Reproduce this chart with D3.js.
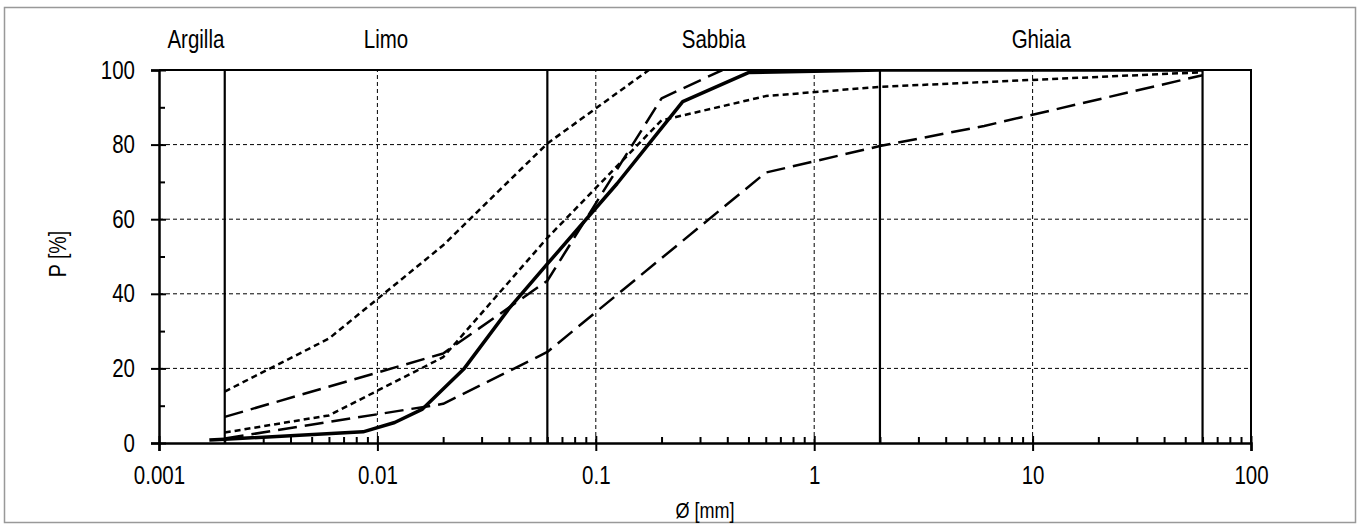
<!DOCTYPE html>
<html>
<head>
<meta charset="utf-8">
<script src="https://cdn.jsdelivr.net/npm/d3@7"></script>
<style>
  body { margin: 0; background: #fff; }
  svg text { font-family: "Liberation Sans", Arial, sans-serif; fill: #000; }
</style>
</head>
<body>
<div id="chart"></div>
<script>
// grain size classes (boundaries in mm) and their names
const classBounds = [0.002, 0.06, 2, 60];
const classNames = ['Argilla', 'Limo', 'Sabbia', 'Ghiaia'];
const classEdges = [0.001, 0.002, 0.06, 2, 60];

// axis ticks
const xTickValues = [0.001, 0.01, 0.1, 1, 10, 100];
const xTickLabels = ['0.001', '0.01', '0.1', '1', '10', '100'];
const yTickValues = [0, 20, 40, 60, 80, 100];
const yMinorValues = [10, 30, 50, 70, 90];

// grading curves: diameters [mm] and passing [%]
const solidD = [0.0017, 0.002, 0.0086, 0.012, 0.016, 0.025, 0.04, 0.06, 0.125, 0.25, 0.5, 2, 60];
const solidP = [0.8, 1.0, 3.0, 5.5, 9.0, 20, 36, 48, 69.5, 91.5, 99.3, 100, 100];

const fineDotD = [0.002, 0.006, 0.02, 0.06, 0.175];
const fineDotP = [13.8, 28, 53, 80.3, 100];

const midDotD = [0.002, 0.006, 0.02, 0.06, 0.2, 0.6, 2, 60];
const midDotP = [2.8, 7.4, 23, 55, 86.5, 93, 95.5, 99.4];

const upperDashD = [0.002, 0.02, 0.06, 0.2, 0.38];
const upperDashP = [7, 24, 43.5, 92.4, 100];

const lowerDashD = [0.002, 0.02, 0.06, 0.6, 2, 6, 60];
const lowerDashP = [1.2, 10.5, 24.4, 72.5, 79.6, 85, 98.6];

const width = 1367, height = 532;
const marginLeft = 159, marginRight = 116, marginTop = 70, marginBottom = 89;
const NARROW = 0.82; // horizontal squeeze to get a narrow face
const x = d3.scaleLog([0.001, 100], [marginLeft, width - marginRight]);
const y = d3.scaleLinear([0, 100], [height - marginBottom, marginTop]);

const svg = d3.select('#chart').append('svg')
  .attr('width', width)
  .attr('height', height);

// outer frame
svg.append('rect')
  .attr('x', 4.5).attr('y', 7.5)
  .attr('width', 1351).attr('height', 515)
  .attr('fill', 'none')
  .attr('stroke', '#999')
  .attr('stroke-width', 1.5);

svg.append('defs').append('clipPath').attr('id', 'plot')
  .append('rect')
  .attr('x', x.range()[0]).attr('y', y.range()[1])
  .attr('width', x.range()[1] - x.range()[0])
  .attr('height', y.range()[0] - y.range()[1]);

// grid lines
const grid = svg.append('g')
  .attr('stroke', '#000')
  .attr('stroke-width', 1)
  .attr('stroke-dasharray', '4,3');
grid.selectAll('.hgrid')
  .data(yTickValues.filter(v => v > 0 && v < 100))
  .join('line')
  .attr('x1', x.range()[0]).attr('x2', x.range()[1])
  .attr('y1', d => y(d)).attr('y2', d => y(d));
grid.selectAll('.vgrid')
  .data(xTickValues.slice(1, -1))
  .join('line')
  .attr('x1', d => x(d)).attr('x2', d => x(d))
  .attr('y1', y.range()[0]).attr('y2', y.range()[1]);

// class boundaries
svg.append('g').selectAll('line')
  .data(classBounds)
  .join('line')
  .attr('x1', d => x(d)).attr('x2', d => x(d))
  .attr('y1', y.range()[0]).attr('y2', y.range()[1])
  .attr('stroke', '#000')
  .attr('stroke-width', 2.2);

// class names, centred (log-wise) between boundaries
svg.append('g').selectAll('text')
  .data(classNames)
  .join('text')
  .attr('transform', (d, i) =>
    `translate(${x(Math.sqrt(classEdges[i] * classEdges[i + 1])) + (i === 0 ? 4 : 0)},48) scale(${NARROW},1)`)
  .attr('text-anchor', 'middle')
  .attr('font-size', 25)
  .text(d => d);

// curves
const series = [
  { d: fineDotD, p: fineDotP, dash: '6,4', w: 2.5 },
  { d: midDotD, p: midDotP, dash: '6,4', w: 2.5 },
  { d: upperDashD, p: upperDashP, dash: '19,8', w: 2.5 },
  { d: lowerDashD, p: lowerDashP, dash: '19,8', w: 2.5 },
  { d: solidD, p: solidP, dash: null, w: 3.5 },
];
const line = d3.line().x(d => x(d[0])).y(d => y(d[1]));
svg.append('g')
  .attr('clip-path', 'url(#plot)')
  .selectAll('path')
  .data(series)
  .join('path')
  .attr('d', s => line(d3.zip(s.d, s.p)))
  .attr('fill', 'none')
  .attr('stroke', '#000')
  .attr('stroke-width', s => s.w)
  .attr('stroke-dasharray', s => s.dash)
  .attr('stroke-linejoin', 'round');

// top and right border
svg.append('path')
  .attr('d', `M${x.range()[0]},${y.range()[1]}H${x.range()[1]}V${y.range()[0]}`)
  .attr('fill', 'none')
  .attr('stroke', '#000')
  .attr('stroke-width', 2);

// x axis: minor ticks (inside) then majors crossing the axis
const xMinor = [];
for (let e = -3; e < 2; e++) for (let m = 2; m <= 9; m++) xMinor.push(m * Math.pow(10, e));
svg.append('g')
  .attr('transform', `translate(0,${y.range()[0]})`)
  .call(d3.axisTop(x).tickValues(xMinor).tickSize(6).tickFormat(''))
  .call(g => g.select('.domain').remove())
  .call(g => g.selectAll('.tick line').attr('stroke-width', 2));

const gX = svg.append('g')
  .attr('transform', `translate(0,${y.range()[0]})`)
  .call(d3.axisBottom(x).tickValues(xTickValues)
    .tickFormat((d, i) => xTickLabels[i]).tickSizeOuter(0).tickSize(8).tickPadding(15));
gX.select('.domain').attr('stroke-width', 2.5);
gX.selectAll('.tick line').attr('y1', -7).attr('stroke-width', 2);
gX.selectAll('.tick text')
  .attr('font-size', 25).attr('font-family', null)
  .attr('transform', `scale(${NARROW},1)`);

// y axis
svg.append('g')
  .attr('transform', `translate(${x.range()[0]},0)`)
  .call(d3.axisRight(y).tickValues(yMinorValues).tickSize(6).tickFormat(''))
  .call(g => g.select('.domain').remove())
  .call(g => g.selectAll('.tick line').attr('stroke-width', 2));

const gY = svg.append('g')
  .attr('transform', `translate(${x.range()[0]},0)`)
  .call(d3.axisLeft(y).tickValues(yTickValues).tickSizeOuter(0).tickSize(8).tickPadding(16));
gY.select('.domain').attr('stroke-width', 2.5);
gY.selectAll('.tick line').attr('x1', 7).attr('stroke-width', 2);
gY.selectAll('.tick text')
  .attr('font-size', 25).attr('font-family', null)
  .attr('x', -24 / NARROW)
  .attr('transform', `scale(${NARROW},1)`);

// axis titles
svg.append('text')
  .attr('transform', `translate(${(x.range()[0] + x.range()[1]) / 2},518) scale(${NARROW},1)`)
  .attr('text-anchor', 'middle')
  .attr('font-size', 22)
  .text('Ø [mm]');

svg.append('text')
  .attr('transform', `translate(66,254) rotate(-90) scale(${NARROW},1)`)
  .attr('text-anchor', 'middle')
  .attr('font-size', 24)
  .text('P [%]');
</script>
</body>
</html>
